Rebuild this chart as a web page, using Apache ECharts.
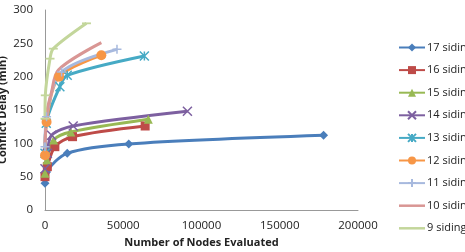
<!DOCTYPE html>
<html>
<head>
    <meta charset="utf-8">
    <title>Conflict Delay</title>
    <script src="https://cdn.jsdelivr.net/npm/echarts@6/dist/echarts.min.js"></script>
    <style>
        html, body { margin: 0; padding: 0; background: #fff; }
        #chart { width: 465px; height: 252px; }
    </style>
</head>
<body>
<div id="chart"></div>
<script type="text/javascript">
    // series names, x = nodes evaluated, y = conflict delay (min)
    var names = ['17 sidings', '16 sidings', '15 sidings', '14 sidings', '13 sidings',
                 '12 sidings', '11 sidings', '10 sidings', '9 sidings'];
    var nodes17 = [0, 1000, 14200, 53500, 178000];
    var delay17 = [40, 57, 85, 99, 112];
    var nodes16 = [0, 1500, 6300, 17600, 64000];
    var delay16 = [50, 65, 95, 110, 126];
    var nodes15 = [0, 1200, 5500, 16500, 66000];
    var delay15 = [55, 75, 105, 117, 136];
    var nodes14 = [0, 1500, 4200, 18000, 91000];
    var delay14 = [62, 85, 112, 126, 148];
    var nodes13 = [0, 800, 9500, 14200, 63500];
    var delay13 = [85, 130, 185, 202, 231];
    var nodes12 = [0, 1000, 9000, 36000];
    var delay12 = [82, 132, 200, 232];
    var nodes11 = [0, 1000, 10600, 46000];
    var delay11 = [95, 140, 207, 241];
    var nodes10 = [0, 1500, 4000, 8500, 36000];
    var delay10 = [100, 150, 175, 210, 251];
    var nodes9 = [0, 200, 3200, 5300, 26500];
    var delay9 = [137, 172, 227, 242, 280];
    var xTicks = [0, 50000, 100000, 150000, 200000];
    var yTicks = [0, 50, 100, 150, 200, 250, 300];

    var colors = ['#4A7EBB', '#BE4B48', '#98B954', '#7D60A0', '#46AAC5',
                  '#F79646', '#A7B9DE', '#D99694', '#C3D69B'];
    var xPath = 'path://M0,0 L10,10 M10,0 L0,10';
    var starPath = 'path://M0,0 L10,10 M10,0 L0,10 M5,0 L5,10';
    var plusPath = 'path://M5,0 L5,10 M0,5 L10,5';
    var dashPath = 'path://M0,0 L10,0 L10,2 L0,2 Z';
    var symbols = ['diamond', 'rect', 'triangle', xPath, starPath, 'circle', plusPath, 'none', dashPath];
    var sizes = [9, 9, 9, 9, 9, 10, 9, 0, 9];

    var xs = [nodes17, nodes16, nodes15, nodes14, nodes13, nodes12, nodes11, nodes10, nodes9];
    var ys = [delay17, delay16, delay15, delay14, delay13, delay12, delay11, delay10, delay9];

    function pairs(a, b) {
        var out = [];
        for (var i = 0; i < a.length; i++) out.push([a[i], b[i]]);
        return out;
    }

    var series = [];
    var legendData = [];
    for (var i = 0; i < names.length; i++) {
        var stroked = (symbols[i] === xPath || symbols[i] === starPath || symbols[i] === plusPath);
        series.push({
            name: names[i],
            type: 'line',
            smooth: 0.3,
            data: pairs(xs[i], ys[i]),
            symbol: symbols[i],
            symbolSize: sizes[i],
            symbolKeepAspect: symbols[i] === dashPath,
            showSymbol: symbols[i] !== 'none',
            lineStyle: { color: colors[i], width: 3 },
            itemStyle: stroked
                ? { color: colors[i], borderColor: colors[i], borderWidth: 1.5 }
                : { color: colors[i], borderColor: colors[i], borderWidth: 0 },
            emphasis: { disabled: true }
        });
        if (symbols[i] === dashPath || symbols[i] === 'none') {
            legendData.push({ name: names[i], icon: 'path://M0,4 L26,4 L26,6.5 L0,6.5 Z' });
        } else {
            legendData.push(names[i]);
        }
    }

    var myChart = echarts.init(document.getElementById('chart'));
    var option = {
        animation: false,
        textStyle: { fontFamily: 'Open Sans' },
        grid: { left: 45, right: 107, top: 10, bottom: 42, containLabel: false, outerBoundsMode: 'none' },
        legend: {
            orient: 'vertical',
            left: 393,
            top: 37,
            itemWidth: 26,
            itemHeight: 10,
            itemGap: 11.6,
            data: legendData,
            textStyle: { fontSize: 11, color: '#222', fontFamily: 'Open Sans', padding: [0, 0, 0, -3] }
        },
        xAxis: {
            type: 'value',
            min: 0,
            max: 200000,
            interval: 50000,
            name: 'Number of Nodes Evaluated',
            nameLocation: 'middle',
            nameGap: 27,
            nameMoveOverlap: false,
            nameTextStyle: { fontSize: 11, fontWeight: 'bold', color: '#222' },
            axisLine: { show: true, lineStyle: { color: '#999' } },
            axisTick: { show: false },
            splitLine: { show: false },
            axisLabel: { fontSize: 11.5, color: '#222', margin: 10,
                formatter: function (v) { return xTicks.indexOf(v) >= 0 ? String(v) : ''; } }
        },
        yAxis: {
            type: 'value',
            min: 0,
            max: 300,
            interval: 50,
            name: 'Conflict Delay (min)',
            nameLocation: 'middle',
            nameGap: 37,
            nameMoveOverlap: false,
            nameTextStyle: { fontSize: 11, fontWeight: 'bold', color: '#222' },
            axisLine: { show: true, lineStyle: { color: '#999' } },
            axisTick: { show: false },
            splitLine: { show: false },
            axisLabel: { fontSize: 11.5, color: '#222', margin: 12,
                formatter: function (v) { return yTicks.indexOf(v) >= 0 ? String(v) : ''; } }
        },
        series: series
    };
    myChart.setOption(option);
</script>
</body>
</html>
